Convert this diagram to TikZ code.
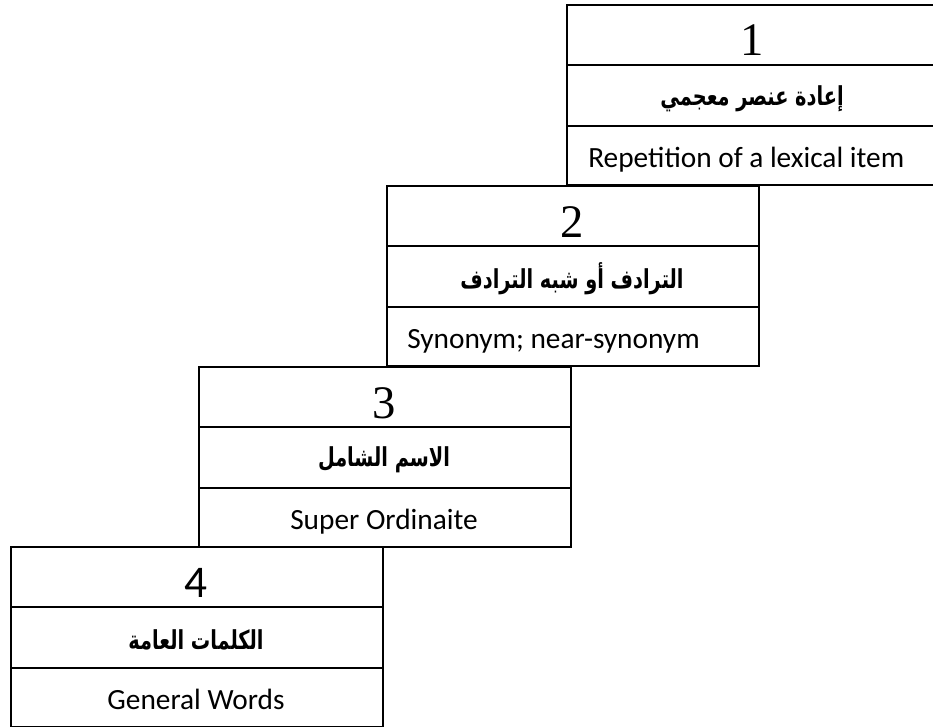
\documentclass[tikz,border=0pt]{standalone}
\usepackage{fontspec}
\TeXXeTstate=1
\setmainfont{Liberation Serif}
\newfontfamily\arabicfont[Script=Arabic]{DejaVu Sans}
\newfontfamily\engfont{Carlito}
\newcommand\artext[1]{\scalebox{1}[1.35]{\beginR #1\endR}}
\begin{document}
\begin{tikzpicture}[x=0.75pt,y=-0.75pt,
  cell/.style={draw, line width=1.4pt, minimum width=279pt, inner sep=0pt, anchor=north west},
  toprow/.style={cell, minimum height=45pt},
  midrow/.style={cell, minimum height=45.75pt},
  botrow/.style={cell, minimum height=44.25pt},
  wide/.style={minimum width=300pt},
  numtxt/.style={anchor=base, inner sep=0pt, font=\fontsize{35}{35}\selectfont},
  numsans/.style={anchor=base, inner sep=0pt, font=\engfont\fontsize{34}{34}\selectfont},
  artxt/.style={anchor=center, inner sep=0pt, font=\arabicfont\bfseries\fontsize{14.5}{14.5}\selectfont},
  entxt/.style={anchor=base, inner sep=0pt, font=\engfont\fontsize{22}{22}\selectfont},
  entxtl/.style={entxt, anchor=base west}]
\useasboundingbox (0,0) rectangle (933,726);
% box 1 (runs past the right edge)
\node[toprow, wide] (b1a) at (566,4) {};
\node[midrow, wide] (b1b) at (566,64) {};
\node[botrow, wide] (b1c) at (566,125) {};
\node[numtxt] (b1n) at (752,55) {1};
\node[artxt] (b1r) at (752,99) {\artext{إعادة عنصر معجمي}};
\node[entxtl] (b1e) at (588,167) {Repetition of a lexical item};
% box 2
\node[toprow] (b2a) at (386,185) {};
\node[midrow] (b2b) at (386,245) {};
\node[botrow] (b2c) at (386,306) {};
\node[numtxt] (b2n) at (572,237) {2};
\node[artxt] (b2r) at (572,279) {\artext{الترادف أو شبه الترادف}};
\node[entxtl] (b2e) at (407,348) {Synonym; near-synonym};
% box 3
\node[toprow] (b3a) at (198,366) {};
\node[midrow] (b3b) at (198,426) {};
\node[botrow] (b3c) at (198,487) {};
\node[numtxt] (b3n) at (384,418) {3};
\node[artxt] (b3r) at (384,460) {\artext{الاسم الشامل}};
\node[entxt] (b3e) at (384,529) {Super Ordinaite};
% box 4
\node[toprow] (b4a) at (10,546) {};
\node[midrow] (b4b) at (10,606) {};
\node[botrow] (b4c) at (10,667) {};
\node[numsans] (b4n) at (196,597) {4};
\node[artxt] (b4r) at (196,640) {\artext{الكلمات العامة}};
\node[entxt] (b4e) at (196,709) {General Words};
\end{tikzpicture}
\end{document}
